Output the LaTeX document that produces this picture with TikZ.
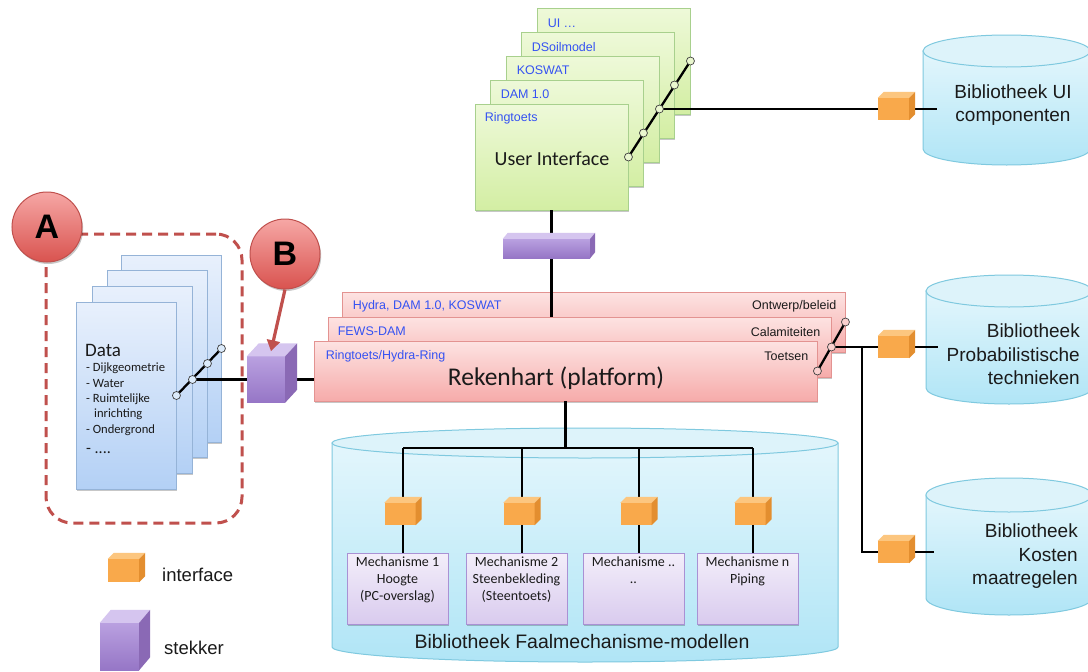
\documentclass[tikz,border=0pt]{standalone}
\usepackage{fontspec}
\setmainfont{Liberation Sans}
\newfontfamily\calfont{Carlito}
\usetikzlibrary{arrows.meta,shadows}
\definecolor{uitop}{HTML}{EEF9D9}\definecolor{uibot}{HTML}{D3EEA3}\definecolor{uiborder}{HTML}{A8D08D}
\definecolor{rktop}{HTML}{FDE3E2}\definecolor{rkbot}{HTML}{F6ABAA}\definecolor{rkborder}{HTML}{E39391}
\definecolor{dttop}{HTML}{E8F0FC}\definecolor{dtbot}{HTML}{B3D0F5}\definecolor{dtborder}{HTML}{95B3D7}
\definecolor{mctop}{HTML}{F3EEFA}\definecolor{mcbot}{HTML}{D9CBEE}\definecolor{mcborder}{HTML}{A991D4}
\definecolor{cytop}{HTML}{E3F6FC}\definecolor{cybot}{HTML}{B0E5F6}\definecolor{cyborder}{HTML}{7FC9DF}\definecolor{cyend}{HTML}{DDF3FA}
\definecolor{orfront}{HTML}{F9A94B}\definecolor{ortop}{HTML}{FCC67F}\definecolor{orside}{HTML}{E38E2F}
\definecolor{pufronttop}{HTML}{B9A0E0}\definecolor{pufrontbot}{HTML}{9676C6}\definecolor{putop}{HTML}{D5C5EF}\definecolor{puside}{HTML}{8A69B5}
\definecolor{redtop}{HTML}{F6A7A5}\definecolor{redbot}{HTML}{D9534F}\definecolor{redbd}{HTML}{C0504D}
\definecolor{lblue}{HTML}{3552F2}\definecolor{txt}{HTML}{1A1A1A}
\definecolor{uidot}{HTML}{EAF7CF}\definecolor{dtdot}{HTML}{DCEBFB}\definecolor{rkdot}{HTML}{FAD0CF}

% cylinder: L R T B ry
\newcommand\drawcyl[5]{%
  \pgfmathsetmacro\cylcx{(#1+#2)/2}\pgfmathsetmacro\cylrx{(#2-#1)/2}%
  \path[cylbody] (#1,#3+#5) -- (#1,#4-#5) arc[start angle=180,end angle=0,x radius=\cylrx,y radius=#5] -- (#2,#3+#5) -- cycle;
  \path[cylend] (\cylcx,#3+#5) ellipse[x radius=\cylrx, y radius=#5];
}
% cube top and side faces on a front-face node: name dx dy top side
\newcommand\cubetops[5]{%
  \fill[#4] (#1.north west) -- ++(#2,-#3) -- ([shift={(#2,-#3)}]#1.north east) -- (#1.north east) -- cycle;
  \fill[#5] (#1.north east) -- ++(#2,-#3) -- ([shift={(#2,-#3)}]#1.south east) -- (#1.south east) -- cycle;
}

\begin{document}
\begin{tikzpicture}[x=1pt,y=-1pt,
  conline/.style={line width=2.3pt, draw=black},
  softshadow/.style={drop shadow={shadow xshift=1.2pt, shadow yshift=-2pt, opacity=.22, fill=black}},
  uibox/.style={draw=uiborder, line width=0.9pt, top color=uitop, bottom color=uibot, minimum width=153, minimum height=106, inner sep=0, softshadow},
  rkbox/.style={draw=rkborder, line width=0.9pt, top color=rktop, bottom color=rkbot, minimum width=503, minimum height=60, inner sep=0, softshadow},
  databox/.style={draw=dtborder, line width=0.9pt, top color=dttop, bottom color=dtbot, minimum width=100, minimum height=187, inner sep=0, softshadow},
  mechbox/.style={draw=mcborder, line width=0.9pt, top color=mctop, bottom color=mcbot, minimum width=101, minimum height=71, inner sep=0, softshadow},
  ifront/.style={fill=orfront, minimum width=31, minimum height=22, inner sep=0},
  sfront/.style={top color=pufronttop, bottom color=pufrontbot, inner sep=0},
  cylbody/.style={draw=cyborder, line width=1pt, top color=cytop, bottom color=cybot},
  cylend/.style={draw=cyborder, line width=1pt, fill=cyend},
  lbl/.style={text=lblue, font=\fontsize{12.5}{15}\selectfont, inner sep=0, anchor=west},
  rlbl/.style={text=txt, font=\fontsize{12.5}{15}\selectfont, inner sep=0, anchor=east},
  cyltxt/.style={text=txt, font=\fontsize{19}{23.5}\selectfont, inner sep=0},
  datatxt/.style={text=txt, font=\calfont\fontsize{12.6}{15}\selectfont, inner sep=0, anchor=west},
  mtxt/.style={text=txt, font=\calfont\fontsize{14}{17}\selectfont, inner sep=0, align=center, anchor=north},
  jdot/.style={circle, draw=black!75, line width=0.7pt, minimum size=8, inner sep=0},
  badge/.style={circle, minimum size=70, draw=redbd, line width=1pt, top color=redtop, bottom color=redbot, text=black, font=\bfseries\fontsize{34}{34}\selectfont, softshadow},
  legtxt/.style={text=txt, font=\fontsize{18.5}{22}\selectfont, inner sep=0, anchor=west}
]
\useasboundingbox[fill=white] (0,0) rectangle (1088,672);

% ---------- cylinders ----------
\drawcyl{923}{1090}{35}{165}{16}
\node[inner sep=0, minimum width=167, minimum height=130] (cyl1) at (1006.5,100) {};
\node[cyltxt, align=center] (cyl1t) at (1013,105) {Bibliotheek UI\\componenten};

\drawcyl{926}{1092}{275}{404}{16}
\node[inner sep=0, minimum width=166, minimum height=129] (cyl2) at (1009,339.5) {};
\node[cyltxt, align=right, anchor=east] (cyl2t) at (1080,354.5) {Bibliotheek\\Probabilistische\\technieken};

\drawcyl{926}{1092}{478}{615}{17}
\node[inner sep=0, minimum width=166, minimum height=137] (cyl3) at (1009,546.5) {};
\node[cyltxt, align=right, anchor=east] (cyl3t) at (1078,556.5) {Bibliotheek\\Kosten\\maatregelen};

\drawcyl{332}{838}{428}{662}{15}
\node[inner sep=0, minimum width=506, minimum height=234] (cylm) at (585,545) {};
\node[cyltxt, font=\fontsize{19.5}{23}\selectfont] (cylmt) at (582,642) {Bibliotheek Faalmechanisme-modellen};

% ---------- group A ----------
\node[draw=redbd, line width=3pt, dash pattern=on 10pt off 6pt, rounded corners=26pt, minimum width=196, minimum height=289, inner sep=0] (grpA) at (144,378.5) {};

% ---------- User interface stack ----------
\node[uibox] (u5) at (613.5,61) {};
\node[lbl] (u5l) at ([shift={(11,16)}]u5.north west) {UI …};
\node[uibox] (u4) at (597.5,85) {};
\node[lbl] (u4l) at ([shift={(11,15)}]u4.north west) {DSoilmodel};
\node[uibox] (u3) at (582.5,109) {};
\node[lbl] (u3l) at ([shift={(11,15)}]u3.north west) {KOSWAT};
\node[uibox] (u2) at (566.5,133) {};
\node[lbl] (u2l) at ([shift={(11,15)}]u2.north west) {DAM 1.0};
\node[uibox] (u1) at (551.5,157) {};
\node[lbl] (u1l) at ([shift={(10,15)}]u1.north west) {Ringtoets};
\node[text=txt, font=\calfont\fontsize{20}{24}\selectfont, inner sep=0] (u1t) at (552,159) {User Interface};

% interface to UI library
\node[ifront] (ib1) at (893.5,109) {};
\draw[conline] (u1.east) -- (u5.east);
\draw[conline] (u3.east) -- (ib1.west);
\draw[conline] (ib1.east) -- ([xshift=14pt]ib1.east -| cyl1.west);
\cubetops{ib1}{6}{6}{ortop}{orside}
\foreach \n in {u1,u2,u3,u4,u5} \node[jdot, fill=uidot] (dot\n) at (\n.east) {};

% ---------- Rekenhart stack ----------
\node[rkbox] (r3) at (593.5,322) {};
\node[lbl] (r3l) at ([shift={(11,15)}]r3.north west) {Hydra, DAM 1.0, KOSWAT};
\node[rlbl] (r3r) at ([shift={(-9,15)}]r3.north east) {Ontwerp/beleid};
\draw[conline] (u1.south) -- (u1.south |- r3.south);
\node[sfront, minimum width=87, minimum height=19] (s2) at (546.5,248.5) {};
\cubetops{s2}{5}{6}{putop}{puside}
\node[rkbox] (r2) at (579.5,347) {};
\node[lbl] (r2l) at ([shift={(10,15)}]r2.north west) {FEWS-DAM};
\node[rlbl] (r2r) at ([shift={(-11,15)}]r2.north east) {Calamiteiten};
\node[rkbox] (r1) at (565.5,371) {};
\node[lbl] (r1l) at ([shift={(12,16)}]r1.north west) {Ringtoets/Hydra-Ring};
\node[rlbl] (r1r) at ([shift={(-9,16)}]r1.north east) {Toetsen};
\node[text=txt, font=\calfont\fontsize{25.5}{30}\selectfont, inner sep=0] (r1t) at (556,378) {Rekenhart (platform)};

% connectors to right libraries
\node[ifront] (ib2) at (893.5,347) {};
\node[ifront] (ib3) at (893.5,552) {};
\coordinate (jn) at (862,347);
\draw[conline] (r1.east) -- (r3.east);
\draw[conline] (r2.east) -- (ib2.west);
\draw[conline] (jn) |- (ib3.west);
\draw[conline] (ib2.east) -- ([xshift=12pt]ib2.east -| cyl2.west);
\draw[conline] (ib3.east) -- ([xshift=8pt]ib3.east -| cyl3.west);
\cubetops{ib2}{6}{6}{ortop}{orside}
\cubetops{ib3}{6}{6}{ortop}{orside}
\foreach \n in {r1,r2,r3} \node[jdot, fill=rkdot] (dot\n) at (\n.east) {};

% ---------- Data stack ----------
\node[databox] (d4) at (171,348.5) {};
\node[databox] (d3) at (157,363.5) {};
\node[databox] (d2) at (142,379.5) {};
\node[databox] (d1) at (126,395.5) {};
\node[datatxt, font=\calfont\fontsize{19}{22}\selectfont] (dt0) at (85,350) {Data};
\node[datatxt] (dt1) at (86,368) {- Dijkgeometrie};
\node[datatxt] (dt2) at (86,383) {- Water};
\node[datatxt] (dt3) at (86,399) {- Ruimtelijke};
\node[datatxt] (dt4) at (94,414.5) {inrichting};
\node[datatxt] (dt5) at (86,430) {- Ondergrond};
\node[datatxt, font=\calfont\fontsize{16}{18}\selectfont] (dt6) at (86,451) {- ....};

\node[sfront, minimum width=38, minimum height=46] (s1) at (266,379.5) {};
\draw[conline] (d1.east) -- (d4.east);
\draw[conline] (d2.east) -- (s1.west);
\draw[conline] (s1.east) -- (s1.east -| r1.west);
\cubetops{s1}{12}{13}{putop}{puside}
\foreach \n in {d1,d2,d3,d4} \node[jdot, fill=dtdot] (dot\n) at (\n.east) {};

% ---------- mechanisms ----------
\coordinate (bus) at (565.5,448);
\coordinate (c1) at (403,448);
\coordinate (c2) at (522,448);
\coordinate (c3) at (639,448);
\coordinate (c4) at (753,448);
\node[mechbox] (m1) at (397.5,588.5) {};
\node[mechbox] (m2) at (516.5,588.5) {};
\node[mechbox] (m3) at (633.5,588.5) {};
\node[mechbox] (m4) at (747.5,588.5) {};
\draw[conline] (r1.south) -- (bus);
\draw[conline] (c1) -- (c4);
\foreach \k in {1,2,3,4} \draw[conline] (c\k) -- (c\k |- m\k.north);
\node[ifront] (i1) at (400,514) {};
\node[ifront] (i2) at (519,514) {};
\node[ifront] (i3) at (636,514) {};
\node[ifront] (i4) at (750,514) {};
\foreach \k in {1,2,3,4} {\cubetops{i\k}{6}{6}{ortop}{orside}}
\node[mtxt] (m1t) at ([shift={(0,4)}]m1.north) {Mechanisme 1\\Hoogte\\(PC-overslag)};
\node[mtxt] (m2t) at ([shift={(0,4)}]m2.north) {Mechanisme 2\\Steenbekleding\\(Steentoets)};
\node[mtxt] (m3t) at ([shift={(0,4)}]m3.north) {Mechanisme ..\\..};
\node[mtxt] (m4t) at ([shift={(0,4)}]m4.north) {Mechanisme n\\Piping};

% ---------- badges ----------
\node[badge] (A) at (47,227) {A};
\node[badge] (B) at (285,254) {B};
\draw[draw=redbd, line width=3.2pt, -{Triangle[length=11pt,width=13pt]}] (B.south) -- ([shift={(5,-5)}]s1.north);

% ---------- legend ----------
\node[ifront, minimum height=23] (lgi) at (123.5,570.5) {};
\cubetops{lgi}{6}{6}{ortop}{orside}
\node[legtxt] (lgit) at (162,575) {interface};
\node[sfront, minimum width=39, minimum height=47] (lgs) at (119.5,646.5) {};
\cubetops{lgs}{11}{13}{putop}{puside}
\node[legtxt] (lgst) at (164,648) {stekker};
\end{tikzpicture}
\end{document}
